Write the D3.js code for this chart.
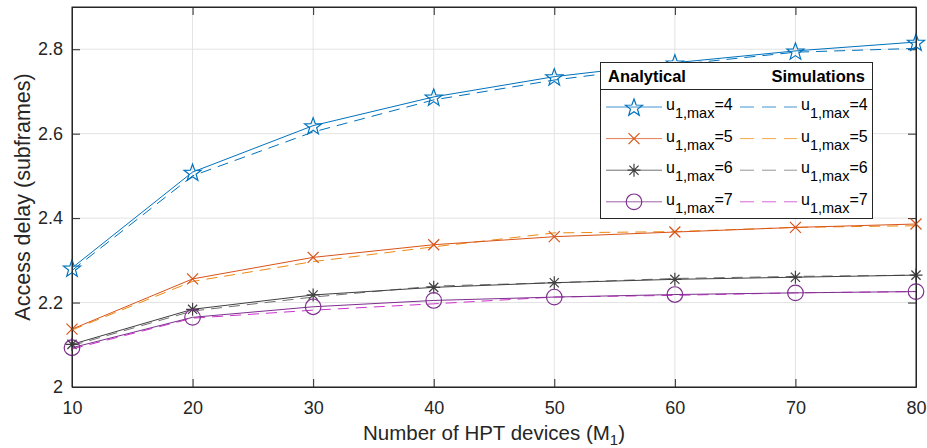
<!DOCTYPE html>
<html>
<head>
<meta charset="utf-8">
<script src="https://cdn.jsdelivr.net/npm/d3@7"></script>
<style>
  body { margin: 0; background: #fff; }
  svg { display: block; font-family: "Liberation Sans", Arial, sans-serif; }
</style>
</head>
<body>
<svg id="main-svg" width="927" height="448"></svg>
<script>
// number of HPT devices
var devices = [10, 20, 30, 40, 50, 60, 70, 80];

// analytical results
var anaU4 = [2.282, 2.509, 2.619, 2.687, 2.735, 2.768, 2.796, 2.817];
var anaU5 = [2.137, 2.256, 2.307, 2.337, 2.356, 2.367, 2.378, 2.386];
var anaU6 = [2.101, 2.184, 2.218, 2.236, 2.247, 2.255, 2.260, 2.265];
var anaU7 = [2.093, 2.165, 2.190, 2.205, 2.213, 2.219, 2.223, 2.226];

// simulation results
var simU4 = [2.276, 2.500, 2.604, 2.680, 2.727, 2.763, 2.793, 2.802];
var simU5 = [2.135, 2.250, 2.297, 2.332, 2.365, 2.368, 2.378, 2.382];
var simU6 = [2.098, 2.180, 2.213, 2.239, 2.247, 2.257, 2.262, 2.265];
var simU7 = [2.090, 2.163, 2.182, 2.197, 2.213, 2.217, 2.223, 2.226];

var uMax = [4, 5, 6, 7];
var xTicks = [10, 20, 30, 40, 50, 60, 70, 80];
var yTicks = [2, 2.2, 2.4, 2.6, 2.8];

var series = [
	{ ana: anaU4, sim: simU4, color: '#0072BD', simColor: '#0072BD', marker: 'star' },
	{ ana: anaU5, sim: simU5, color: '#D95319', simColor: '#EE8A10', marker: 'x' },
	{ ana: anaU6, sim: simU6, color: '#404040', simColor: '#707070', marker: 'asterisk' },
	{ ana: anaU7, sim: simU7, color: '#7E2F8E', simColor: '#CC33CC', marker: 'circle' }
];

var pLeft = 72, pRight = 916, pTop = 7, pBottom = 387;

var svg = d3.select( 'svg#main-svg' );

var x = d3.scaleLinear().domain( [10, 80] ).range( [pLeft, pRight] );
var y = d3.scaleLinear().domain( [2, 2.9] ).range( [pBottom, pTop] );

// grid
svg.append( 'g' ).selectAll( 'line' ).data( xTicks ).join( 'line' )
	.attr( 'x1', d => x( d ) ).attr( 'x2', d => x( d ) )
	.attr( 'y1', pTop ).attr( 'y2', pBottom )
	.attr( 'stroke', '#e3e3e3' ).attr( 'stroke-width', 1 );
svg.append( 'g' ).selectAll( 'line' ).data( yTicks ).join( 'line' )
	.attr( 'x1', pLeft ).attr( 'x2', pRight )
	.attr( 'y1', d => y( d ) ).attr( 'y2', d => y( d ) )
	.attr( 'stroke', '#e3e3e3' ).attr( 'stroke-width', 1 );

// axes with inner ticks (box style)
var tickLen = 8;
function styleAxis( g ) {
	g.selectAll( 'path' ).attr( 'stroke', '#262626' );
	g.selectAll( 'line' ).attr( 'stroke', '#262626' );
	g.selectAll( 'text' ).attr( 'fill', '#262626' ).style( 'font-size', '18px' )
		.style( 'font-family', '"Liberation Sans", Arial, sans-serif' );
}
svg.append( 'g' ).attr( 'transform', 'translate(0,' + pBottom + ')' )
	.call( d3.axisBottom( x ).tickValues( xTicks ).tickSizeInner( -tickLen ).tickSizeOuter( 0 ).tickPadding( 14 ) )
	.call( styleAxis );
svg.append( 'g' ).attr( 'transform', 'translate(0,' + pTop + ')' )
	.call( d3.axisTop( x ).tickValues( xTicks ).tickSizeInner( -tickLen ).tickSizeOuter( 0 ).tickFormat( '' ) )
	.call( styleAxis );
svg.append( 'g' ).attr( 'transform', 'translate(' + pLeft + ',0)' )
	.call( d3.axisLeft( y ).tickValues( yTicks ).tickSizeInner( -tickLen ).tickSizeOuter( 0 ).tickPadding( 9 ).tickFormat( d3.format( '' ) ) )
	.call( styleAxis );
svg.append( 'g' ).attr( 'transform', 'translate(' + pRight + ',0)' )
	.call( d3.axisRight( y ).tickValues( yTicks ).tickSizeInner( -tickLen ).tickSizeOuter( 0 ).tickFormat( '' ) )
	.call( styleAxis );

// markers
function starPath( r ) {
	var pts = [], ri = r * 0.41;
	for ( var i = 0; i < 10; i++ ) {
		var a = -Math.PI / 2 + i * Math.PI / 5, rr = i % 2 ? ri : r;
		pts.push( [ rr * Math.cos( a ), rr * Math.sin( a ) ] );
	}
	return 'M' + pts.join( 'L' ) + 'Z';
}
function drawMarker( g, type, cx, cy, color ) {
	var m = g.append( 'g' ).attr( 'transform', 'translate(' + cx + ',' + cy + ')' )
		.attr( 'stroke', color ).attr( 'fill', 'none' ).attr( 'stroke-width', 1.2 );
	if ( type === 'star' ) {
		m.append( 'path' ).attr( 'd', starPath( 9 ) ).attr( 'transform', 'translate(0,1)' );
	} else if ( type === 'x' ) {
		m.append( 'path' ).attr( 'd', 'M-5.5,-5.5L5.5,5.5M-5.5,5.5L5.5,-5.5' );
	} else if ( type === 'asterisk' ) {
		m.append( 'path' ).attr( 'd', 'M0,-6.5L0,6.5M-6.5,0L6.5,0M-4.6,-4.6L4.6,4.6M-4.6,4.6L4.6,-4.6' );
	} else {
		m.append( 'circle' ).attr( 'r', 7.8 );
	}
}

var line = d3.line().x( d => x( d[0] ) ).y( d => y( d[1] ) );
var dash = '11,7';

series.forEach( function( s ) {
	var g = svg.append( 'g' );
	g.append( 'path' ).datum( devices.map( ( d, i ) => [ d, s.sim[i] ] ) )
		.attr( 'd', line ).attr( 'fill', 'none' )
		.attr( 'stroke', s.simColor ).attr( 'stroke-width', 1 ).attr( 'stroke-dasharray', dash );
	g.append( 'path' ).datum( devices.map( ( d, i ) => [ d, s.ana[i] ] ) )
		.attr( 'd', line ).attr( 'fill', 'none' )
		.attr( 'stroke', s.color ).attr( 'stroke-width', 1 );
	devices.forEach( function( d, i ) {
		drawMarker( g, s.marker, x( d ), y( s.ana[i] ), s.color );
	} );
} );

// box
svg.append( 'rect' ).attr( 'x', pLeft ).attr( 'y', pTop )
	.attr( 'width', pRight - pLeft ).attr( 'height', pBottom - pTop )
	.attr( 'fill', 'none' ).attr( 'stroke', '#262626' ).attr( 'stroke-width', 1 );

// axis labels
svg.append( 'text' ).attr( 'x', ( pLeft + pRight ) / 2 ).attr( 'y', 440 )
	.attr( 'text-anchor', 'middle' ).attr( 'fill', '#262626' ).style( 'font-size', '20.5px' )
	.call( t => {
		t.append( 'tspan' ).text( 'Number of HPT devices (M' );
		t.append( 'tspan' ).attr( 'dy', 5 ).style( 'font-size', '15px' ).text( '1' );
		t.append( 'tspan' ).attr( 'dy', -5 ).text( ')' );
	} );
svg.append( 'text' ).attr( 'transform', 'translate(30,' + ( pTop + pBottom ) / 2 + ') rotate(-90)' )
	.attr( 'text-anchor', 'middle' ).attr( 'fill', '#262626' ).style( 'font-size', '21.5px' )
	.text( 'Access delay (subframes)' );

// legend
var lg = svg.append( 'g' );
lg.append( 'rect' ).attr( 'x', 600.5 ).attr( 'y', 62.5 ).attr( 'width', 272 ).attr( 'height', 156 )
	.attr( 'fill', '#fff' ).attr( 'stroke', '#262626' ).attr( 'stroke-width', 1 );
lg.append( 'line' ).attr( 'x1', 600.5 ).attr( 'x2', 872.5 ).attr( 'y1', 89.5 ).attr( 'y2', 89.5 )
	.attr( 'stroke', '#262626' );
lg.append( 'text' ).attr( 'x', 608 ).attr( 'y', 82 ).attr( 'font-weight', 'bold' )
	.style( 'font-size', '16.5px' ).attr( 'fill', '#000' ).text( 'Analytical' );
lg.append( 'text' ).attr( 'x', 865 ).attr( 'y', 82 ).attr( 'font-weight', 'bold' ).attr( 'text-anchor', 'end' )
	.style( 'font-size', '16.5px' ).attr( 'fill', '#000' ).text( 'Simulations' );

function uLabel( g, tx, ty, u ) {
	var t = g.append( 'text' ).attr( 'x', tx ).attr( 'y', ty ).attr( 'fill', '#000' ).style( 'font-size', '16px' );
	t.append( 'tspan' ).text( 'u' );
	t.append( 'tspan' ).attr( 'dy', 8 ).style( 'font-size', '14.5px' ).text( '1,max' );
	t.append( 'tspan' ).attr( 'dy', -8 ).text( '=' + u );
}

series.forEach( function( s, i ) {
	var ly = 107 + i * 31.6;
	lg.append( 'line' ).attr( 'x1', 606 ).attr( 'x2', 662 ).attr( 'y1', ly ).attr( 'y2', ly )
		.attr( 'stroke', s.color ).attr( 'stroke-width', 1 ).attr( 'stroke-opacity', 0.75 );
	drawMarker( lg, s.marker, 634, ly, s.color );
	uLabel( lg, 666, ly + 3, uMax[i] );
	lg.append( 'line' ).attr( 'x1', 740 ).attr( 'x2', 797 ).attr( 'y1', ly ).attr( 'y2', ly )
		.attr( 'stroke', s.simColor ).attr( 'stroke-width', 1 ).attr( 'stroke-opacity', 0.75 )
		.attr( 'stroke-dasharray', '14,8' );
	uLabel( lg, 801, ly + 3, uMax[i] );
} );
</script>
</body>
</html>
